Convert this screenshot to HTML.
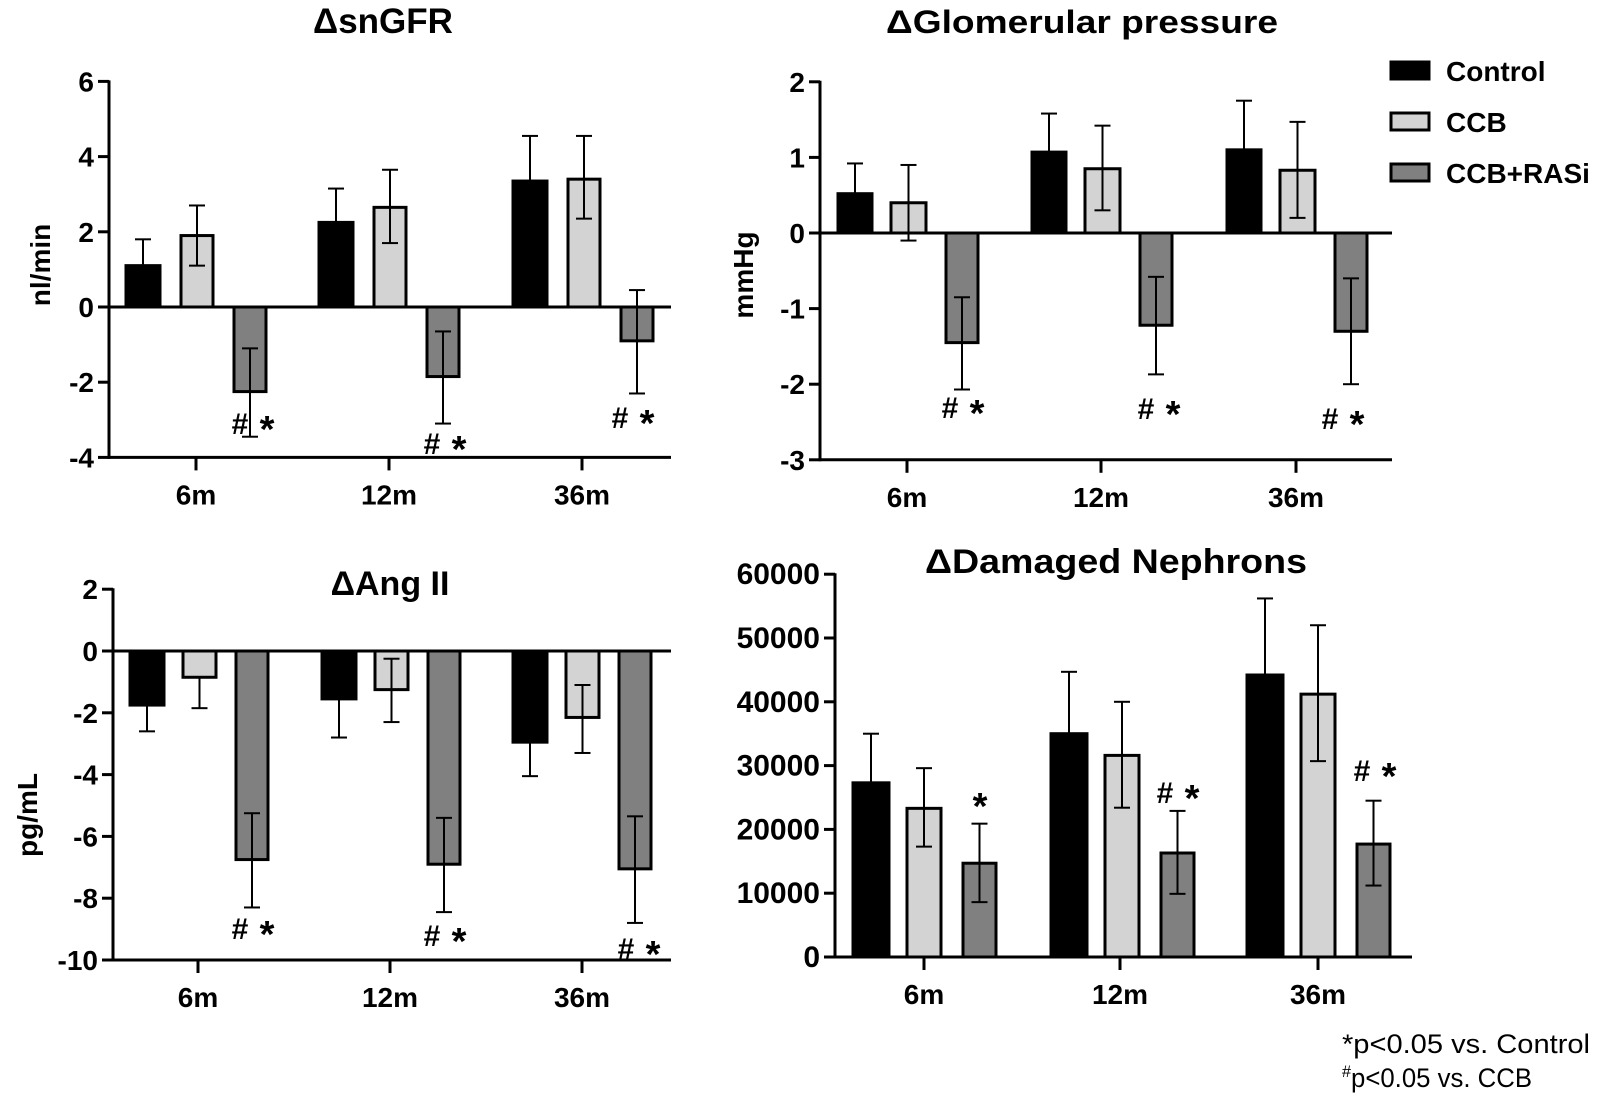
<!DOCTYPE html>
<html><head><meta charset="utf-8"><style>
html,body{margin:0;padding:0;background:#fff;}
svg{display:block;font-family:"Liberation Sans",Arial,sans-serif;}
</style></head><body>
<svg id="s" width="1599" height="1098" viewBox="0 0 1599 1098" xmlns="http://www.w3.org/2000/svg">
<text x="383" y="33" font-size="35" font-weight="bold" text-anchor="middle">ΔsnGFR</text>
<text x="1082" y="33" font-size="32" font-weight="bold" text-anchor="middle" textLength="392" lengthAdjust="spacingAndGlyphs">ΔGlomerular  pressure</text>
<text x="390" y="595" font-size="34" font-weight="bold" text-anchor="middle">ΔAng II</text>
<text x="1116" y="573" font-size="34" font-weight="bold" text-anchor="middle" textLength="382" lengthAdjust="spacingAndGlyphs">ΔDamaged Nephrons</text>
<text transform="translate(50,265) rotate(-90)" font-size="28" font-weight="bold" text-anchor="middle">nl/min</text>
<text transform="translate(753,275) rotate(-90)" font-size="28" font-weight="bold" text-anchor="middle">mmHg</text>
<text transform="translate(37,815) rotate(-90)" font-size="28" font-weight="bold" text-anchor="middle">pg/mL</text>
<rect x="1391" y="62" width="38" height="17" fill="#000" stroke="#000" stroke-width="3"/>
<rect x="1391" y="113" width="38" height="17" fill="#d3d3d3" stroke="#000" stroke-width="3"/>
<rect x="1391" y="164" width="38" height="17" fill="#808080" stroke="#000" stroke-width="3"/>
<text x="1446" y="81" font-size="28" font-weight="bold">Control</text>
<text x="1446" y="132" font-size="28" font-weight="bold">CCB</text>
<text x="1446" y="183" font-size="28" font-weight="bold">CCB+RASi</text>
<text x="1342" y="1053" font-size="27" textLength="248" lengthAdjust="spacingAndGlyphs">*p&lt;0.05 vs. Control</text>
<text x="1342" y="1087" font-size="27" textLength="190" lengthAdjust="spacingAndGlyphs"><tspan font-size="17" dy="-10">#</tspan><tspan dy="10">p&lt;0.05 vs. CCB</tspan></text>
</svg>
<script>
var S=document.getElementById('s'),NS='http://www.w3.org/2000/svg';
function el(t,a,txt){var e=document.createElementNS(NS,t);for(var k in a)e.setAttribute(k,a[k]);if(txt!==undefined)e.textContent=txt;S.appendChild(e);return e;}
function line(x1,y1,x2,y2,w){el('line',{x1:x1,y1:y1,x2:x2,y2:y2,stroke:'#000','stroke-width':w||2});}
var fills=['#000','#d3d3d3','#808080'];
function ann(x,y,s){
 if(s==='*'){el('text',{x:x,y:y+19,'font-size':38,'font-weight':'bold','text-anchor':'middle'},'*');return;}
 el('text',{x:x-10,y:y+11,'font-size':30,'font-weight':'bold','text-anchor':'middle'},'#');
 el('text',{x:x+17,y:y+19,'font-size':38,'font-weight':'bold','text-anchor':'middle'},'*');
}
function panel(p){
 var Y=function(v){return p.y0-v*p.k;};
 for(var g=0;g<3;g++){for(var i=0;i<3;i++){
  var d=p.d[g][i],x1=p.bars[i][0]+p.go[g],x2=p.bars[i][1]+p.go[g],cx=(x1+x2)/2;
  var yv=Y(d[0]),y0=Y(0);
  el('rect',{x:x1,y:Math.min(yv,y0),width:x2-x1,height:Math.abs(yv-y0),fill:fills[i],stroke:'#000','stroke-width':3});
  for(var j=1;j<d.length;j++){var ye=Y(d[j]);line(cx,yv,cx,ye,2);line(cx-8,ye,cx+8,ye,2);}
 }}
 line(p.ax,Y(p.max)-1,p.ax,Y(p.min)+1.5,3);
 line(p.ax,Y(p.min),p.xe,Y(p.min),3);
 if(p.min<0)line(p.ax,Y(0),p.xe,Y(0),3);
 for(var v=p.max;v>=p.min-1e-9;v-=p.step){
  line(p.ax-11,Y(v),p.ax,Y(v),3);
  el('text',{x:p.ax-15,y:Y(v)+10,'font-size':p.fs||28,'font-weight':'bold','text-anchor':'end'},(v<0?'-':'')+Math.abs(Math.round(v*100)/100));
 }
 var cats=['6m','12m','36m'];
 for(var c=0;c<3;c++){line(p.ct[c],Y(p.min),p.ct[c],Y(p.min)+13,3);
  el('text',{x:p.ct[c],y:Y(p.min)+47,'font-size':28,'font-weight':'bold','text-anchor':'middle'},cats[c]);}
 p.ann.forEach(function(a){ann(a[0],a[1],a[2]);});
}
panel({ax:109,xe:671,y0:307,k:37.6,max:6,min:-4,step:2,bars:[[126,160],[181,213],[234,266]],go:[0,193,387],ct:[196,389,582],
 d:[[[1.1,1.8],[1.9,1.1,2.7],[-2.25,-3.45,-1.1]],[[2.25,3.15],[2.65,1.7,3.65],[-1.85,-3.1,-0.65]],[[3.35,4.55],[3.4,2.35,4.55],[-0.9,-2.3,0.45]]],
 ann:[[250,423,'# *'],[442,443,'# *'],[630,417,'# *']]});
panel({ax:820,xe:1392,y0:233,k:75.6,max:2,min:-3,step:1,bars:[[838,872],[891,926],[946,978]],go:[0,194,389],ct:[907,1101,1296],
 d:[[[0.52,0.92],[0.4,-0.1,0.9],[-1.45,-2.07,-0.85]],[[1.07,1.58],[0.85,0.3,1.42],[-1.22,-1.87,-0.58]],[[1.1,1.75],[0.83,0.2,1.47],[-1.3,-2.0,-0.6]]],
 ann:[[960,407,'# *'],[1156,408,'# *'],[1340,418,'# *']]});
panel({ax:113,xe:671,y0:651,k:30.9,max:2,min:-10,step:2,bars:[[130,164],[183,216],[236,268]],go:[0,192,383],ct:[198,390,582],
 d:[[[-1.75,-2.6],[-0.85,-1.85],[-6.75,-8.3,-5.25]],[[-1.55,-2.8],[-1.25,-2.3,-0.25],[-6.9,-8.45,-5.4]],[[-2.95,-4.05],[-2.15,-3.3,-1.1],[-7.05,-8.8,-5.35]]],
 ann:[[250,928,'# *'],[442,935,'# *'],[636,948,'# *']]});
panel({ax:835,xe:1412,y0:957,k:0.00638,max:60000,min:0,step:10000,fs:30,bars:[[853,889],[907,941],[963,996]],go:[0,198,394],ct:[924,1120,1318],
 d:[[[27300,35000],[23300,17300,29600],[14700,8600,20900]],[[35000,44700],[31600,23400,40000],[16300,9900,22900]],[[44200,56200],[41200,30700,52000],[17700,11200,24500]]],
 ann:[[980,800,'*'],[1175,792,'# *'],[1372,770,'# *']]});
</script>
</body></html>
